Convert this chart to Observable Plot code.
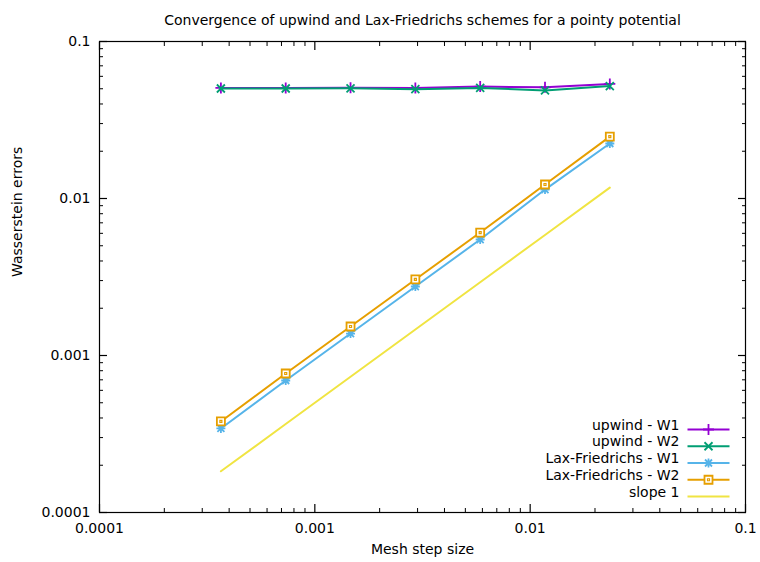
<!DOCTYPE html>
<html>
<head>
<meta charset="utf-8">
<script src="https://cdn.jsdelivr.net/npm/d3@7"></script>
<script src="https://cdn.jsdelivr.net/npm/@observablehq/plot@0.6"></script>
<style>
  html, body { margin: 0; padding: 0; background: #ffffff; }
  #chart { width: 760px; height: 562px; }
</style>
</head>
<body>
<div id="chart"></div>
<script>
// ---- data ----
const title = "Convergence of upwind and Lax-Friedrichs schemes for a pointy potential";
const xLabel = "Mesh step size";
const yLabel = "Wasserstein errors";

const meshSteps = [0.0003662109375, 0.000732421875, 0.00146484375, 0.0029296875, 0.005859375, 0.01171875, 0.0234375];
const upwindW1 = [0.0506, 0.0506, 0.0507, 0.0505, 0.0516, 0.0511, 0.0537];
const upwindW2 = [0.0502, 0.0502, 0.0503, 0.0497, 0.0506, 0.0488, 0.0520];
const laxW1    = [0.000343, 0.000693, 0.00138, 0.00275, 0.00548, 0.0114, 0.0224];
const laxW2    = [0.000380, 0.000768, 0.00153, 0.00305, 0.00607, 0.01228, 0.0248];
const slope1   = [0.000183, 0.000366, 0.000732, 0.001465, 0.00293, 0.00586, 0.01172];

const seriesNames  = ["upwind - W1", "upwind - W2", "Lax-Friedrichs - W1", "Lax-Friedrichs - W2", "slope 1"];
const seriesValues = [upwindW1, upwindW2, laxW1, laxW2, slope1];
const seriesColors = ["#9400d3", "#009e73", "#56b4e9", "#e69f00", "#f0e442"];
const seriesMarkers = ["plus", "times", "asterisk", "box", null];

const xTickValues = [0.0001, 0.001, 0.01, 0.1];
const xTickLabels = ["0.0001", "0.001", "0.01", "0.1"];
const yTickValues = [0.0001, 0.001, 0.01, 0.1];
const yTickLabels = ["0.0001", "0.001", "0.01", "0.1"];
const minorMultipliers = [2, 3, 4, 5, 6, 7, 8, 9];

// ---- derived ----
const minorTicks = [0.0001, 0.001, 0.01].flatMap(d => minorMultipliers.map(k => k * d));
const rows = seriesNames.flatMap((name, i) =>
  meshSteps.map((h, j) => ({series: name, h, v: seriesValues[i][j]})));

// custom symbols (gnuplot-like point types)
const symbols = {
  plus: {draw(c) { c.moveTo(-5.5, 0); c.lineTo(5.5, 0); c.moveTo(0, -5.5); c.lineTo(0, 5.5); }},
  times: {draw(c) { c.moveTo(-4, -4); c.lineTo(4, 4); c.moveTo(-4, 4); c.lineTo(4, -4); }},
  asterisk: {draw(c) {
    c.moveTo(-4.5, 0); c.lineTo(4.5, 0); c.moveTo(0, -4.5); c.lineTo(0, 4.5);
    c.moveTo(-3.5, -3.5); c.lineTo(3.5, 3.5); c.moveTo(-3.5, 3.5); c.lineTo(3.5, -3.5);
  }},
  box: {draw(c) { c.rect(-4, -4, 8, 8); }},
  boxDot: {draw(c) { c.rect(-1, -1, 2, 2); }},
  legendLine: {draw(c) { c.moveTo(-21, 0); c.lineTo(21, 0); }}
};

const FS = 14;
const marks = [];

// series lines + markers
seriesNames.forEach((name, i) => {
  const data = rows.filter(d => d.series === name);
  marks.push(Plot.line(data, {x: "h", y: "v", stroke: seriesColors[i], strokeWidth: 2}));
  const m = seriesMarkers[i];
  if (m) {
    marks.push(Plot.dot(data, {x: "h", y: "v", symbol: symbols[m], stroke: seriesColors[i],
      fill: m === "box" ? "white" : "none", strokeWidth: 1.8}));
    if (m === "box") {
      marks.push(Plot.dot(data, {x: "h", y: "v", symbol: symbols.boxDot, stroke: seriesColors[i], fill: "none", strokeWidth: 1.2}));
    }
  }
});

// legend (bottom-right inside frame)
seriesNames.forEach((name, i) => {
  const dy = -(83 - 16.75 * i);
  marks.push(Plot.text([name], {frameAnchor: "bottom-right", dx: -66, dy, textAnchor: "end",
    fill: "black", fontSize: FS}));
  marks.push(Plot.dot([name], {frameAnchor: "bottom-right", dx: -37, dy, symbol: symbols.legendLine,
    stroke: seriesColors[i], fill: "none", strokeWidth: 2}));
  const m = seriesMarkers[i];
  if (m) {
    marks.push(Plot.dot([name], {frameAnchor: "bottom-right", dx: -37, dy, symbol: symbols[m],
      stroke: seriesColors[i], fill: m === "box" ? "white" : "none", strokeWidth: 1.8}));
    if (m === "box") {
      marks.push(Plot.dot([name], {frameAnchor: "bottom-right", dx: -37, dy, symbol: symbols.boxDot,
        stroke: seriesColors[i], fill: "none", strokeWidth: 1.2}));
    }
  }
});

// frame
marks.push(Plot.frame({stroke: "black", strokeWidth: 1.2}));

// inward ticks on all sides (major + minor)
for (const anchor of ["bottom", "top"]) {
  marks.push(Plot.axisX({anchor, ticks: xTickValues, tickSize: -8, text: null, label: null, strokeWidth: 1.2}));
  marks.push(Plot.axisX({anchor, ticks: minorTicks, tickSize: -4, text: null, label: null, strokeWidth: 1}));
}
for (const anchor of ["left", "right"]) {
  marks.push(Plot.axisY({anchor, ticks: yTickValues, tickSize: -8, text: null, label: null, strokeWidth: 1.2}));
  marks.push(Plot.axisY({anchor, ticks: minorTicks, tickSize: -4, text: null, label: null, strokeWidth: 1}));
}
// tick labels
marks.push(Plot.axisX({anchor: "bottom", ticks: xTickValues, tickSize: 0, tickPadding: 11, fontSize: FS,
  tickFormat: d => xTickLabels[xTickValues.indexOf(d)], label: null, fill: "black"}));
marks.push(Plot.axisY({anchor: "left", ticks: yTickValues, tickSize: 0, tickPadding: 9, fontSize: FS,
  tickFormat: d => yTickLabels[yTickValues.indexOf(d)], label: null, fill: "black"}));

// titles
marks.push(Plot.text([title], {frameAnchor: "top", dy: -26, fill: "black", fontSize: FS}));
marks.push(Plot.text([xLabel], {frameAnchor: "bottom", dy: 41, fill: "black", fontSize: FS}));
marks.push(Plot.text([yLabel], {frameAnchor: "left", dx: -82, rotate: -90, fill: "black", fontSize: FS}));

const chart = Plot.plot({
  width: 760,
  height: 562,
  marginLeft: 99,
  marginRight: 15,
  marginTop: 41,
  marginBottom: 50,
  x: {type: "log", domain: [0.0001, 0.1]},
  y: {type: "log", domain: [0.0001, 0.1]},
  style: {fontFamily: "'DejaVu Sans', sans-serif", fontSize: FS + "px", background: "white", color: "black"},
  marks
});
document.getElementById("chart").appendChild(chart);
</script>
</body>
</html>
